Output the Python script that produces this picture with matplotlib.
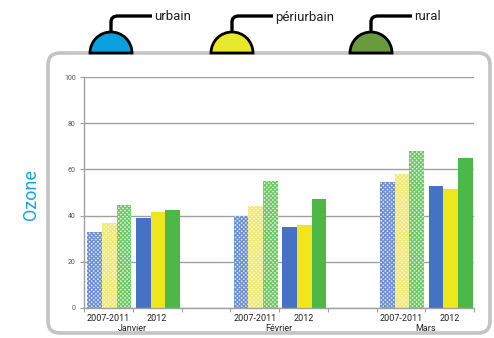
import matplotlib
matplotlib.use("Agg")
import matplotlib.pyplot as plt
from matplotlib.patches import FancyBboxPatch, Wedge, PathPatch
from matplotlib.path import Path
import numpy as np

months = ["Janvier", "Février", "Mars"]
periods = ["2007-2011", "2012"]
series = ["urbain", "périurbain", "rural"]
# values per month: [2007-2011, 2012]
urbain = [[33, 39], [40, 35], [54.5, 53]]
periurbain = [[37, 41.5], [44, 36], [58, 51.5]]
rural = [[44.5, 42.5], [55, 47], [68, 65]]
yticks = [0, 20, 40, 60, 80, 100]

bar_colors = ["#4472C4", "#F0E61E", "#4DB848"]
hatch_colors = ["#6A8ED0", "#F0E86A", "#6CC866"]
light_colors = ["#DCE4F4", "#FCFAD8", "#DCF2D8"]
dome_colors = ["#0AA0E0", "#E8E82A", "#6A9A3E"]

W, H = 494, 338
fig = plt.figure(figsize=(W / 100, H / 100), dpi=100)
plt.rcParams['font.family'] = ['Roboto', 'DejaVu Sans']
plt.rcParams['hatch.linewidth'] = 0.9

bg = fig.add_axes([0, 0, 1, 1])
bg.set_xlim(0, W)
bg.set_ylim(0, H)
bg.axis("off")

def py(y):
    return H - y

# panel
panel = FancyBboxPatch((48, py(333)), 442, 280, boxstyle="round,pad=0,rounding_size=12",
                       facecolor="white", edgecolor="#C4C4C4", linewidth=2.6, zorder=1)
bg.add_patch(panel)

dome_x = [111, 232, 371]
label_x = [152, 273, 412]
for cx, lx, col, name in zip(dome_x, label_x, dome_colors, series):
    w = Wedge((cx, py(53)), 21, 0, 180, facecolor=col, edgecolor="black", linewidth=2.0, zorder=3)
    bg.add_patch(w)
    verts = [(cx, py(32)), (cx, py(22)), (cx, py(16)), (cx + 7, py(16)), (lx, py(16))]
    codes = [Path.MOVETO, Path.LINETO, Path.CURVE3, Path.CURVE3, Path.LINETO]
    bg.add_patch(PathPatch(Path(verts, codes), facecolor="none", edgecolor="black",
                           linewidth=2.4, zorder=3, capstyle="butt"))
    bg.text(lx + 2, py(17), name, fontsize=9.5, ha="left", va="center", color="#222222")

bg.text(31, py(195), "Ozone", rotation=90, fontsize=13, color="#1AA3DC", ha="center", va="center")

# chart axes
ax = fig.add_axes([84 / W, (H - 308) / H, 390 / W, 231 / H])
ax.set_xlim(0, 8)
ax.set_ylim(0, 100)
ax.set_facecolor("none")

slots = [[0, 1], [3, 4], [6, 7]]
bw = 0.3
offsets = [-0.3, 0.0, 0.3]
data = [urbain, periurbain, rural]
for s_idx in range(3):
    for m in range(3):
        for p in range(2):
            x = slots[m][p] + 0.52 + offsets[s_idx]
            v = data[s_idx][m][p]
            if p == 0:
                ax.bar(x, v, width=bw, facecolor=light_colors[s_idx], edgecolor=hatch_colors[s_idx],
                       hatch="xxxxxxxx", linewidth=0, zorder=2)
            else:
                ax.bar(x, v, width=bw, color=bar_colors[s_idx], linewidth=0, zorder=2)

ax.set_yticks(yticks)
ax.set_yticklabels([str(t) for t in yticks], fontsize=5, color="#555555")
ax.yaxis.grid(True, color="#A0A0A0", linewidth=1.0, zorder=0)
ax.set_axisbelow(True)
ax.tick_params(axis="y", length=3, color="#A0A0A0", pad=3)

ax.set_xticks(range(0, 9))
ax.set_xticklabels([])
ax.tick_params(axis="x", which="major", length=3, color="#A0A0A0")
centers = []
labels = []
for m in range(3):
    for p in range(2):
        centers.append(slots[m][p] + 0.5)
        labels.append(periods[p])
ax.set_xticks(centers, minor=True)
ax.set_xticklabels(labels, minor=True, fontsize=6.5, color="#222222")
ax.tick_params(axis="x", which="minor", length=0, pad=4)

for m, name in enumerate(months):
    ax.text(slots[m][1], -0.07, name, transform=ax.get_xaxis_transform(),
            ha="center", va="top", fontsize=6.5, color="#222222")

for sp in ["top", "right"]:
    ax.spines[sp].set_visible(False)
for sp in ["left", "bottom"]:
    ax.spines[sp].set_color("#A0A0A0")
    ax.spines[sp].set_linewidth(1.0)

fig.savefig("out.png", dpi=100)
